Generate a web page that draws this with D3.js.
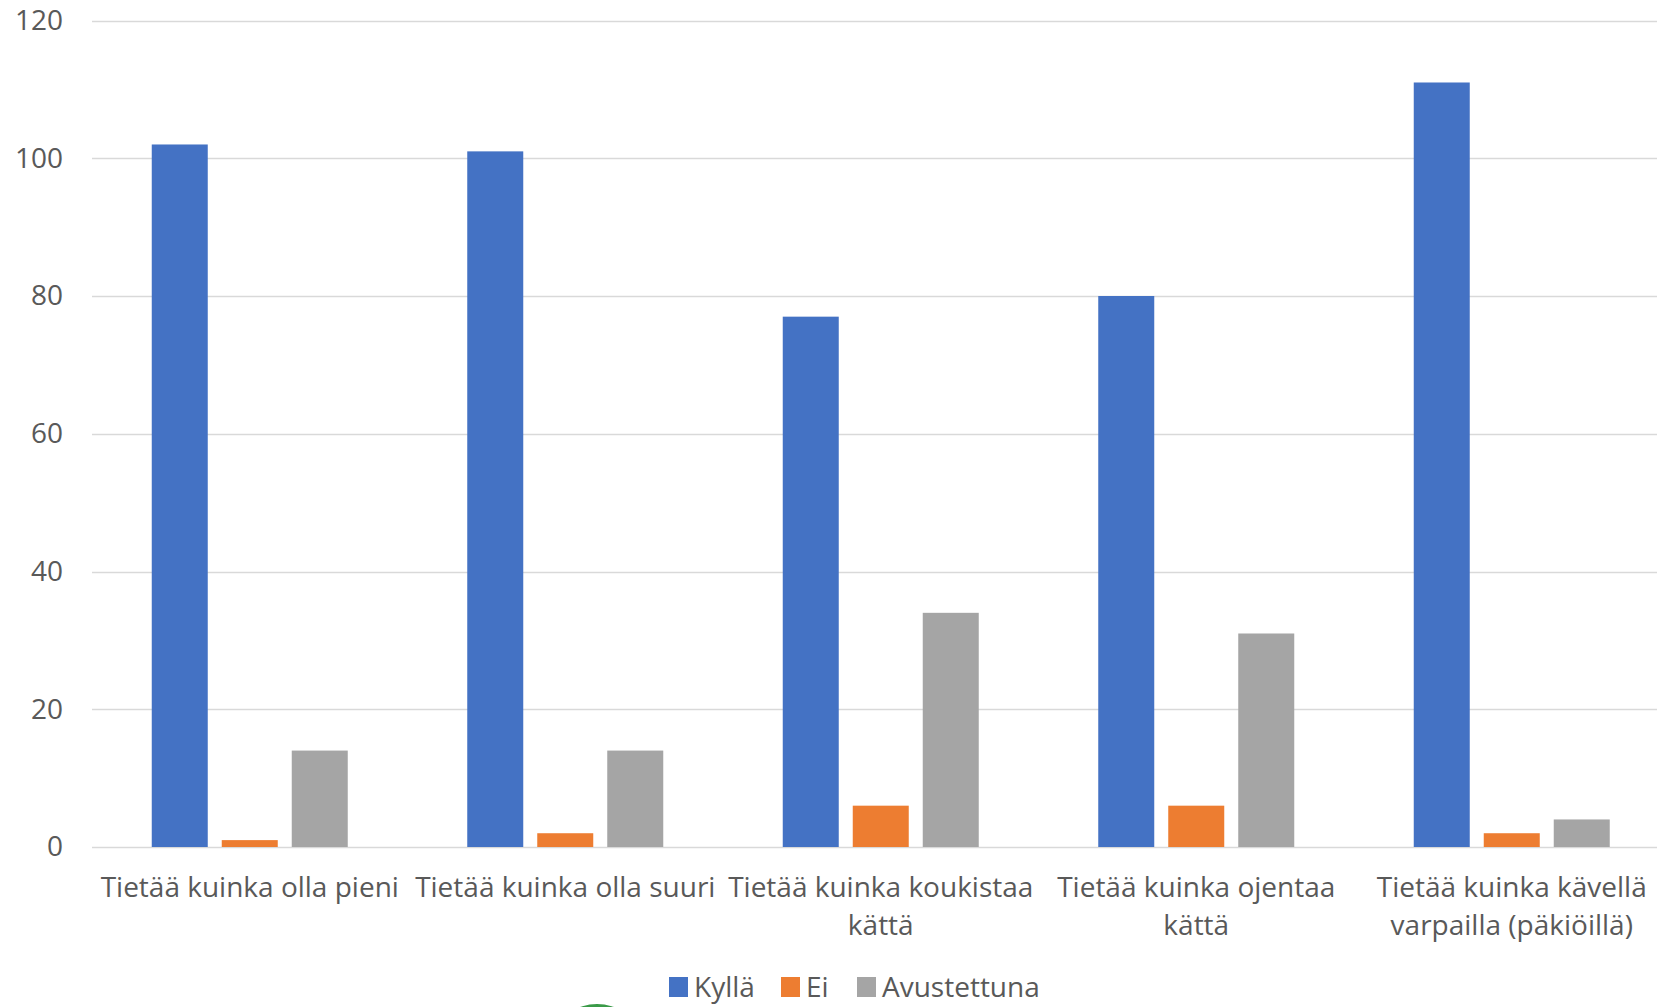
<!DOCTYPE html>
<html>
<head>
<meta charset="utf-8">
<script src="https://cdn.jsdelivr.net/npm/d3@7"></script>
<style>
  body { margin: 0; background: #fff; overflow: hidden; }
  svg { display: block; }
  text { font-family: "Open Sans", "Noto Sans", sans-serif; fill: #595959; }
</style>
</head>
<body>
<div id="chart"></div>
<script>
var categories = [
  "Tietää kuinka olla pieni",
  "Tietää kuinka olla suuri",
  "Tietää kuinka koukistaa kättä",
  "Tietää kuinka ojentaa kättä",
  "Tietää kuinka kävellä varpailla (päkiöillä)"
];
var seriesNames = ["Kyllä", "Ei", "Avustettuna"];
var kylla = [102, 101, 77, 80, 111];
var ei = [1, 2, 6, 6, 2];
var avustettuna = [14, 14, 34, 31, 4];
var yTicks = [0, 20, 40, 60, 80, 100, 120];
var colors = ["#4472C4", "#ED7D31", "#A5A5A5"];

var width = 1657, height = 1007;
var plot = { left: 92, right: 1669.5, top: 20.5, bottom: 847 };
var fontSize = 28;

var svg = d3.select("#chart").append("svg")
    .attr("width", width)
    .attr("height", height);

var y = d3.scaleLinear().domain([0, 120]).range([plot.bottom, plot.top]);

var x0 = d3.scaleBand().domain(d3.range(categories.length))
    .range([plot.left, plot.right]).paddingInner(0).paddingOuter(0);

var x1 = d3.scaleBand().domain(d3.range(seriesNames.length))
    .range([0, x0.bandwidth()]).paddingInner(0.2).paddingOuter(0.8536);

// gridlines
svg.append("g").selectAll("line")
    .data(yTicks)
    .enter().append("line")
    .attr("x1", plot.left)
    .attr("x2", plot.right)
    .attr("y1", function (d) { return Math.round(y(d)) + 0.5; })
    .attr("y2", function (d) { return Math.round(y(d)) + 0.5; })
    .attr("stroke", "#d9d9d9")
    .attr("stroke-width", 1.5);

// y axis labels
var yAxis = d3.axisLeft(y).tickValues(yTicks).tickSize(0).tickPadding(0);
var yg = svg.append("g")
    .attr("transform", "translate(63,0)")
    .call(yAxis);
yg.select(".domain").remove();
yg.selectAll("text")
    .attr("font-size", fontSize)
    .attr("font-family", null)
    .attr("fill", "#595959");

// bars
var seriesData = [kylla, ei, avustettuna];
var groups = svg.append("g").selectAll("g")
    .data(categories)
    .enter().append("g")
    .attr("transform", function (d, i) { return "translate(" + x0(i) + ",0)"; });

groups.selectAll("rect")
    .data(function (d, i) {
      return seriesData.map(function (s, j) { return { s: j, v: s[i] }; });
    })
    .enter().append("rect")
    .attr("x", function (d) { return x1(d.s); })
    .attr("width", x1.bandwidth())
    .attr("y", function (d) { return y(d.v); })
    .attr("height", function (d) { return y(0) - y(d.v); })
    .attr("fill", function (d) { return colors[d.s]; });

// category labels, wrapped
var xAxis = d3.axisBottom(x0).tickSize(0).tickPadding(0)
    .tickFormat(function (i) { return categories[i]; });
var xg = svg.append("g")
    .attr("transform", "translate(0," + 877 + ")")
    .call(xAxis);
xg.select(".domain").remove();
xg.selectAll("text")
    .attr("font-size", fontSize)
    .attr("font-family", null)
    .attr("fill", "#595959")
    .attr("dy", null)
    .attr("y", 0)
    .each(function () { wrap(d3.select(this), x0.bandwidth() - 6); });

function wrap(text, maxW) {
  var words = text.text().split(/\s+/);
  text.text(null);
  var line = [];
  var tspan = text.append("tspan").attr("x", 0).attr("dy", "0.71em");
  words.forEach(function (w) {
    line.push(w);
    tspan.text(line.join(" "));
    if (tspan.node().getComputedTextLength() > maxW && line.length > 1) {
      line.pop();
      tspan.text(line.join(" "));
      line = [w];
      tspan = text.append("tspan").attr("x", 0).attr("dy", "1.36em").text(w);
    }
  });
}

// legend
var legendX = [669, 781, 857];
var legend = svg.append("g").selectAll("g")
    .data(seriesNames)
    .enter().append("g")
    .attr("transform", function (d, i) { return "translate(" + legendX[i] + ",977)"; });
legend.append("rect")
    .attr("width", 19)
    .attr("height", 20)
    .attr("fill", function (d, i) { return colors[i]; });
legend.append("text")
    .attr("x", 25)
    .attr("y", 10)
    .attr("dy", "0.35em")
    .attr("font-size", fontSize)
    .text(function (d) { return d; });

// small green shape peeking at bottom edge
svg.append("ellipse")
    .attr("cx", 597)
    .attr("cy", 1032)
    .attr("rx", 38)
    .attr("ry", 28)
    .attr("fill", "#3a9a48");
</script>
</body>
</html>
